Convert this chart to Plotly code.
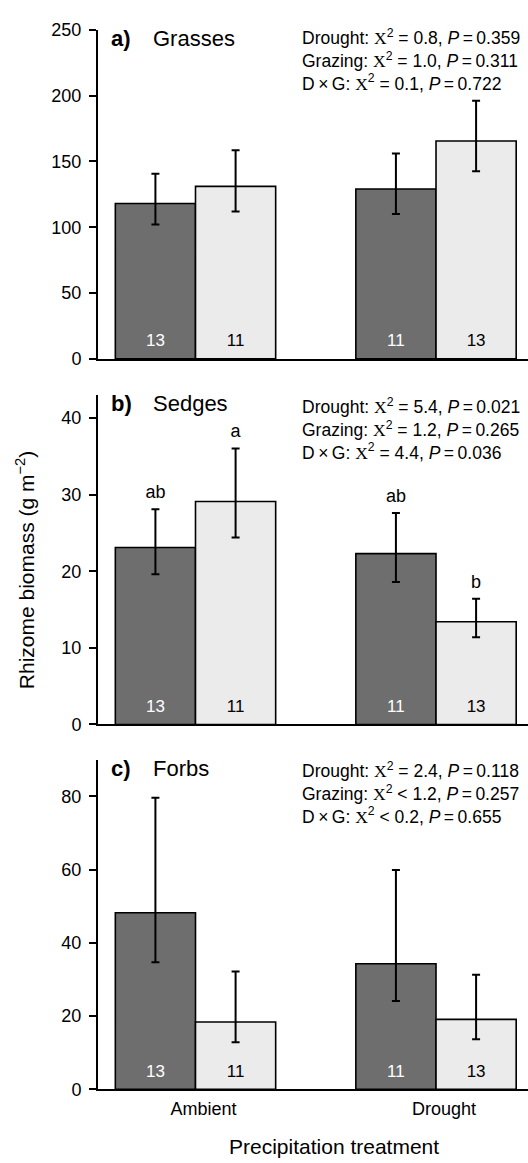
import plotly.graph_objects as go

# ---------------- data ----------------
precip = ["Ambient", "Drought"]
panel_tags = ["a)", "b)", "c)"]
panel_names = ["Grasses", "Sedges", "Forbs"]

grass_dark = [118.0, 129.0]
grass_dark_hi = [140.5, 156.0]
grass_dark_lo = [102.0, 110.0]
grass_light = [131.0, 165.4]
grass_light_hi = [158.4, 196.0]
grass_light_lo = [112.0, 142.5]

sedge_dark = [23.1, 22.3]
sedge_dark_hi = [28.1, 27.6]
sedge_dark_lo = [19.6, 18.6]
sedge_light = [29.1, 13.4]
sedge_light_hi = [36.0, 16.4]
sedge_light_lo = [24.4, 11.4]
sedge_dark_letters = ["ab", "ab"]
sedge_light_letters = ["a", "b"]

forb_dark = [48.2, 34.3]
forb_dark_hi = [79.6, 59.9]
forb_dark_lo = [34.7, 24.1]
forb_light = [18.4, 19.1]
forb_light_hi = [32.2, 31.3]
forb_light_lo = [12.9, 13.7]

n_dark = [13, 11]
n_light = [11, 13]

effects = ["Drought", "Grazing", "D\u2009\u00d7\u2009G"]
grass_chi = ["= 0.8", "= 1.0", "= 0.1"]
grass_p = ["0.359", "0.311", "0.722"]
sedge_chi = ["= 5.4", "= 1.2", "= 4.4"]
sedge_p = ["0.021", "0.265", "0.036"]
forb_chi = ["= 2.4", "< 1.2", "< 0.2"]
forb_p = ["0.118", "0.257", "0.655"]

y_ranges = [[0, 250], [0, 43], [0, 90]]
y_dticks = [50, 10, 20]

# ---------------- style ----------------
W, H = 528, 1163
FONT = "Liberation Sans, Arial, sans-serif"
DARK = "#6e6e6e"
LIGHT = "#ebebeb"
x_dom = [98 / W, 1.0]
# (bottom, top) in pixels from top of page
y_px = [(355, 20), (727, 391.7), (1098.3, 762.7)]
stats_lift = [5.8, 1.9, 2.9]

panels = [
    dict(dark=grass_dark, dhi=grass_dark_hi, dlo=grass_dark_lo,
         light=grass_light, lhi=grass_light_hi, llo=grass_light_lo,
         chi=grass_chi, p=grass_p, letters=None),
    dict(dark=sedge_dark, dhi=sedge_dark_hi, dlo=sedge_dark_lo,
         light=sedge_light, lhi=sedge_light_hi, llo=sedge_light_lo,
         chi=sedge_chi, p=sedge_p, letters=(sedge_dark_letters, sedge_light_letters)),
    dict(dark=forb_dark, dhi=forb_dark_hi, dlo=forb_dark_lo,
         light=forb_light, lhi=forb_light_hi, llo=forb_light_lo,
         chi=forb_chi, p=forb_p, letters=None),
]

fig = go.Figure()
annotations = []

for i, pd_ in enumerate(panels):
    k = "" if i == 0 else str(i + 1)
    xa, ya = "x" + k, "y" + k
    for series, hi, lo, col, og, ns, tcol in [
        (pd_["dark"], pd_["dhi"], pd_["dlo"], DARK, "dark", n_dark, "white"),
        (pd_["light"], pd_["lhi"], pd_["llo"], LIGHT, "light", n_light, "black"),
    ]:
        fig.add_trace(go.Bar(
            x=precip, y=series, xaxis=xa, yaxis=ya, offsetgroup=og,
            marker=dict(color=col, line=dict(color="black", width=1.6)),
            error_y=dict(type="data", symmetric=False,
                         array=[h - v for h, v in zip(hi, series)],
                         arrayminus=[v - l for v, l in zip(series, lo)],
                         color="black", thickness=2, width=4),
            showlegend=False, hoverinfo="skip"))
        fig.add_trace(go.Scatter(
            x=precip, y=[0, 0], xaxis=xa, yaxis=ya, offsetgroup=og,
            mode="markers+text", text=[str(n) for n in ns],
            textposition="top center",
            textfont=dict(family=FONT, size=17, color=tcol),
            marker=dict(size=12, opacity=0), cliponaxis=False,
            showlegend=False, hoverinfo="skip"))
    if pd_["letters"] is not None:
        for hi, letters, og in [(pd_["dhi"], pd_["letters"][0], "dark"),
                                (pd_["lhi"], pd_["letters"][1], "light")]:
            fig.add_trace(go.Scatter(
                x=precip, y=hi, xaxis=xa, yaxis=ya, offsetgroup=og,
                mode="markers+text", text=letters, textposition="top center",
                textfont=dict(family=FONT, size=18, color="black"),
                marker=dict(size=9, opacity=0), cliponaxis=False,
                showlegend=False, hoverinfo="skip"))

    bot, top = y_px[i]
    dom = [(H - bot) / H, (H - top) / H]
    fig.layout["xaxis" + k] = dict(
        domain=x_dom, anchor=ya, type="category", range=[-0.4054, 1.3825],
        showline=True, linecolor="black", linewidth=2, ticks="",
        showticklabels=(i == 2), showgrid=False, zeroline=False,
        tickfont=dict(family=FONT, size=18, color="black"),
        ticklabelshift=8, ticklabelstandoff=2)
    fig.layout["yaxis" + k] = dict(
        domain=dom, anchor=xa, range=y_ranges[i], dtick=y_dticks[i], tick0=0,
        showline=True, linecolor="black", linewidth=2, ticks="outside",
        ticklen=7, tickwidth=2, tickcolor="black", showgrid=False, zeroline=False,
        tickfont=dict(family=FONT, size=18, color="black"), ticklabelstandoff=4)

    ytop = dom[1]
    annotations.append(dict(xref="paper", yref="paper", x=109 / W, y=ytop + 6 / H,
                            xanchor="left", yanchor="top", showarrow=False,
                            text="<b>" + panel_tags[i] + "</b>",
                            font=dict(family=FONT, size=22, color="black")))
    annotations.append(dict(xref="paper", yref="paper", x=151 / W, y=ytop + 6 / H,
                            xanchor="left", yanchor="top", showarrow=False,
                            text=panel_names[i],
                            font=dict(family=FONT, size=22, color="black")))
    lines = []
    for eff, c, p in zip(effects, pd_["chi"], pd_["p"]):
        lines.append(eff + ": <span style='font-family:Liberation Serif'>X</span><sup>2</sup> "
                     + c + ", <i>P</i>\u2009=\u2009" + p)
    annotations.append(dict(xref="paper", yref="paper", x=300 / W,
                            y=ytop + stats_lift[i] / H,
                            xanchor="left", yanchor="top", align="left", showarrow=False,
                            text="<br>".join(lines),
                            font=dict(family=FONT, size=17.5, color="black")))

annotations.append(dict(xref="paper", yref="paper", x=25 / W, y=(H - 570) / H,
                        xanchor="center", yanchor="middle", showarrow=False, textangle=-90,
                        text="Rhizome biomass (g m<sup>\u22122</sup>)",
                        font=dict(family=FONT, size=21, color="black")))
annotations.append(dict(xref="paper", yref="paper", x=334 / W, y=(H - 1143) / H,
                        xanchor="center", yanchor="top", showarrow=False,
                        text="Precipitation treatment",
                        font=dict(family=FONT, size=21, color="black")))

fig.update_layout(
    width=W, height=H, margin=dict(l=0, r=0, t=0, b=0),
    paper_bgcolor="white", plot_bgcolor="white",
    barmode="group", bargap=1 / 3, bargroupgap=0,
    scattermode="group", scattergap=1 / 3,
    showlegend=False, annotations=annotations,
    font=dict(family=FONT, color="black"))

fig.write_html("out.html",
               config={"displayModeBar": False},
               post_script="document.body.style.margin='0';"
                           "document.body.style.overflow='hidden';")
